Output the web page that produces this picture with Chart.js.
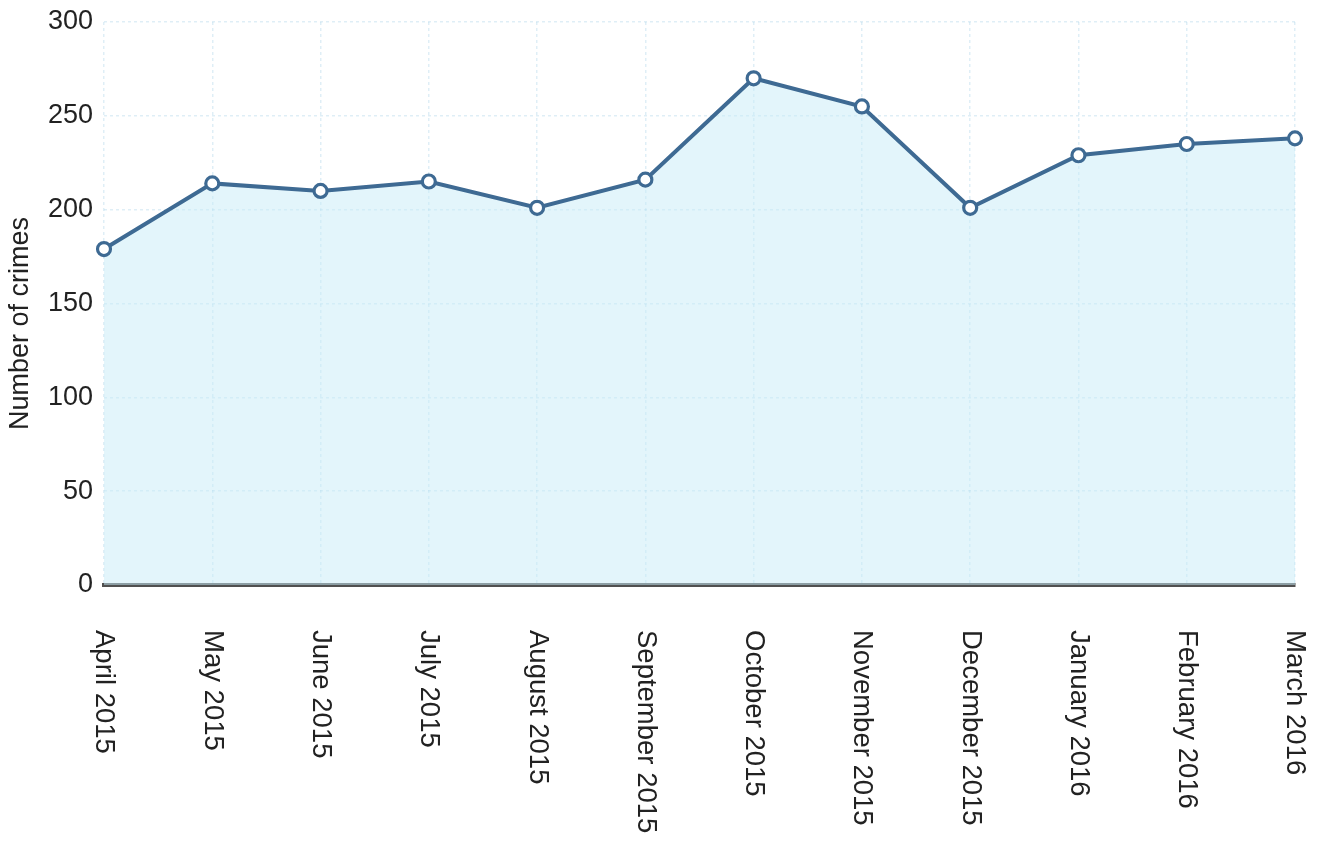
<!DOCTYPE html>
<html>
<head>
<meta charset="utf-8">
<script src="https://cdn.jsdelivr.net/npm/chart.js@4.4.0/dist/chart.umd.min.js"></script>
<style>
  html, body { margin:0; padding:0; background:#fff; }
  #wrap { width:1328px; height:841px; position:relative; }
</style>
</head>
<body>
<div id="wrap"><canvas id="lineChart"></canvas></div>
<script>
// datos
const months = ['April 2015','May 2015','June 2015','July 2015','August 2015','September 2015',
                'October 2015','November 2015','December 2015','January 2016','February 2016','March 2016'];
const crimes = [179, 214, 210, 215, 201, 216, 270, 255, 201, 229, 235, 238];
const yTicks = [0, 50, 100, 150, 200, 250, 300];
const yTitle = 'Number of crimes';

const FONT = '"Liberation Sans", Arial, Helvetica, sans-serif';
const TEXT = '#222222';

// etiquetas del eje x giradas 90° (se leen de arriba hacia abajo) y título del eje y
const customLabels = {
    id:'customLabels',
    afterDraw(chart){
        const ctx = chart.ctx;
        const xs = chart.scales.x;
        const area = chart.chartArea;
        ctx.save();
        ctx.fillStyle = TEXT;
        ctx.font = '27.5px ' + FONT;
        months.forEach((m,i)=>{
            const x = xs.getPixelForTick(i);
            ctx.save();
            ctx.translate(x, area.bottom + 45);
            ctx.rotate(Math.PI/2);
            ctx.textAlign = 'left';
            ctx.textBaseline = 'middle';
            ctx.fillText(m, 0, 0);
            ctx.restore();
        });
        // título eje y
        ctx.font = '27px ' + FONT;
        ctx.save();
        ctx.translate(21, (area.top + area.bottom)/2 + 20);
        ctx.rotate(-Math.PI/2);
        ctx.textAlign = 'center';
        ctx.textBaseline = 'middle';
        ctx.fillText(yTitle, 0, 0);
        ctx.restore();
        ctx.restore();
    }
};

new Chart(document.getElementById('lineChart'), {
    type:'line',
    data:{
        labels: months,
        datasets:[{
            label:'Number of crimes',
            data: crimes,
            borderColor:'#3e6a93',
            borderWidth:4,
            backgroundColor:'rgba(200,236,247,0.5)',
            fill:'origin',
            tension:0,
            pointRadius:6.5,
            pointBorderWidth:3.2,
            pointBackgroundColor:'#ffffff',
            pointBorderColor:'#3e6a93'
        }]
    },
    options:{
        responsive:true,
        maintainAspectRatio:false,
        animation:false,
        layout:{ padding:{ top:22, right:33, left:0, bottom:0 } },
        plugins:{ legend:{ display:false }, tooltip:{ enabled:false } },
        scales:{
            x:{
                grid:{ color:'rgba(140,195,222,0.28)', lineWidth:1.5, drawTicks:false },
                border:{ display:true, color:'#505050', width:4, dash:[3,3] },
                ticks:{ display:false },
                afterFit(s){ s.height = 256; }
            },
            y:{
                min:0, max:300,
                afterBuildTicks(s){ s.ticks = yTicks.map(v=>({value:v})); },
                grid:{ color:'rgba(140,195,222,0.28)', lineWidth:1.5, drawTicks:false },
                border:{ display:false, dash:[3,3] },
                ticks:{ color:TEXT, font:{ family:FONT, size:27 }, padding:11 },
                afterFit(s){ s.width = 104; s.paddingTop = 0; s.paddingBottom = 0; }
            }
        }
    },
    plugins:[customLabels]
});
</script>
</body>
</html>
